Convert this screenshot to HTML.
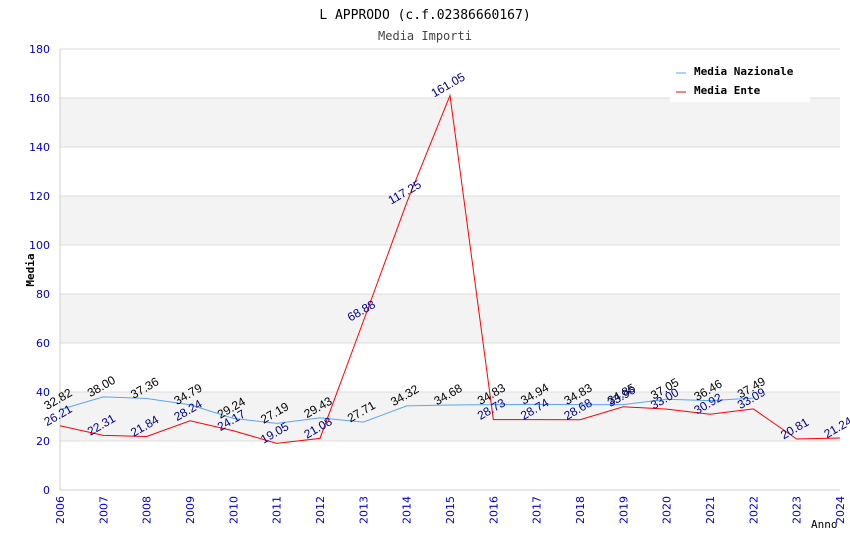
<!DOCTYPE html>
<html><head><meta charset="utf-8"><style>
body{margin:0;background:#fff;}
svg{display:block;font-family:"DejaVu Sans","Liberation Sans",sans-serif;}
</style></head><body>
<svg id="c" width="850" height="550">
<text x="425" y="19" text-anchor="middle" font-family="DejaVu Sans Mono,monospace" font-size="13">L APPRODO (c.f.02386660167)</text>
<text x="425" y="40" text-anchor="middle" font-family="DejaVu Sans Mono,monospace" font-size="12" fill="#444">Media Importi</text>
<g id="bands"></g><g id="grid"></g><g id="axes"></g><g id="series"></g><g id="labels"></g>
<text x="34" y="270" transform="rotate(-90 34 270)" text-anchor="middle" font-family="DejaVu Sans Mono,monospace" font-size="11" font-weight="bold">Media</text>
<text x="811" y="528" font-family="DejaVu Sans Mono,monospace" font-size="11">Anno</text>
<g>
<rect x="670" y="58" width="140" height="44" fill="#fff"/>
<g><line x1="676" y1="73" x2="686" y2="73" stroke="#5aa5f5"/><text x="694" y="75" font-family="DejaVu Sans Mono,monospace" font-size="11" font-weight="bold">Media Nazionale</text></g>
<g><line x1="676" y1="92" x2="686" y2="92" stroke="#f00"/><text x="694" y="94" font-family="DejaVu Sans Mono,monospace" font-size="11" font-weight="bold">Media Ente</text></g>
</g>
</svg>
<script>
const years=[2006,2007,2008,2009,2010,2011,2012,2013,2014,2015,2016,2017,2018,2019,2020,2021,2022,2023,2024];
const nazionale=[32.82,38.00,37.36,34.79,29.24,27.19,29.43,27.71,34.32,34.68,34.83,34.94,34.83,34.85,37.05,36.46,37.49];
const ente=[26.21,22.31,21.84,28.24,24.17,19.05,21.08,68.88,117.25,161.05,28.73,28.74,28.68,33.96,33.00,30.92,33.09,20.81,21.24];
const yTicks=[0,20,40,60,80,100,120,140,160,180];
const L=60,R=840,T=49,B=490,yMax=180;
const x=i=>L+(R-L)*i/(years.length-1);
const y=v=>B-(B-T)*v/yMax;
const NS="http://www.w3.org/2000/svg";
function mk(p,t,a){const e=document.createElementNS(NS,t);for(const k in a)e.setAttribute(k,a[k]);document.getElementById(p).appendChild(e);return e;}
for(let i=1;i<yTicks.length-1;i+=2){
 const r=mk('bands','rect',{x:L,y:y(yTicks[i+1]),width:R-L,height:y(yTicks[i])-y(yTicks[i+1]),fill:'#f3f3f3'});
 
 
}
yTicks.forEach(v=>{
 const g=mk('grid','line',{x1:L,x2:R,y1:y(v),y2:y(v),stroke:'#ddd'});
 
 
 const t=mk('axes','text',{x:L-10,y:y(v)+4,'text-anchor':'end','font-size':11,fill:'#00c'});t.textContent=v;
 
 
});
years.forEach((yr,i)=>{
 const t=mk('axes','text',{x:x(i)+4,y:B+6,'font-size':11,fill:'#00c','text-anchor':'end',transform:`rotate(-90 ${x(i)+4} ${B+6})`});t.textContent=yr;
 
 
});
const ax=mk('axes','path',{d:`M${L} ${T}V${B}H${R}`,stroke:'#ccc',fill:'none'});


function series(data,color,lc,name){
 const p=mk('series','polyline',{points:data.map((v,i)=>x(i)+','+y(v)).join(' '),fill:'none',stroke:color});
 
 
 data.forEach((v,i)=>{
  const px=x(i),py=y(v)-7;
  const t=mk('labels','text',{x:px,y:py,'font-size':12,'font-family':'Liberation Sans,sans-serif',fill:lc,'text-anchor':'middle',transform:`rotate(-30 ${px} ${py})`});
  t.textContent=v.toFixed(2);
  
  
 });
}
series(nazionale,'#5aa5f5','#000','media-nazionale-line');
series(ente,'#f00','#00008b','media-ente-line');
</script>
</body></html>
